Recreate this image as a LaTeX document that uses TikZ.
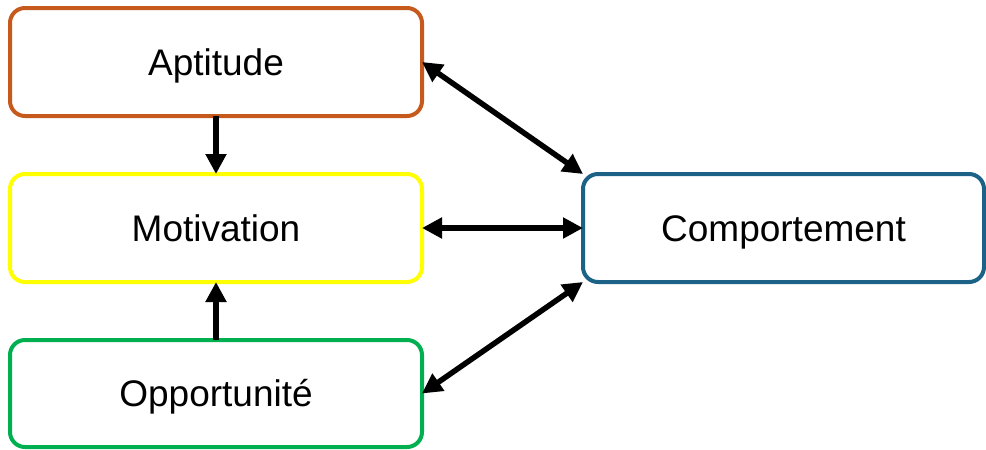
\documentclass[tikz,border=0pt]{standalone}
\usepackage{fontspec}
\setmainfont{Liberation Sans}
\usetikzlibrary{arrows.meta}
\definecolor{aptc}{HTML}{C55A1C}
\definecolor{motc}{HTML}{FFFF00}
\definecolor{oppc}{HTML}{00B050}
\definecolor{compc}{HTML}{1B6286}
\begin{document}
\begin{tikzpicture}[x=1pt,y=1pt,
  box/.style={draw, line width=4pt, rounded corners=15pt, fill=white,
    minimum width=412pt, minimum height=108pt, inner sep=0pt, outer sep=0pt,
    text height=26.5pt, text depth=0pt,
    font=\fontsize{37}{40}\selectfont},
  conn/.style={line width=5.5pt, -{Triangle[length=20pt,width=20pt]}},
  dconn/.style={line width=5.5pt, {Triangle[length=20pt,width=20pt]}-{Triangle[length=20pt,width=20pt]}}]
\useasboundingbox (0,0) rectangle (986,-450);
\node[box, draw=aptc] (apt) at (216,-62) {Aptitude};
\node[box, draw=motc] (mot) at (216,-228) {Motivation};
\node[box, draw=oppc, minimum height=107pt] (opp) at (216,-393.5) {Opportunité};
\node[box, draw=compc, minimum width=401pt] (comp) at (783.5,-228) {Comportement};
\draw[conn] (apt.south) -- (mot.north);
\draw[conn] (opp.north) -- (mot.south);
\draw[dconn] (apt.east) -- (comp.north west);
\draw[dconn] (mot.east) -- (comp.west);
\draw[dconn] (opp.east) -- (comp.south west);
\end{tikzpicture}
\end{document}
